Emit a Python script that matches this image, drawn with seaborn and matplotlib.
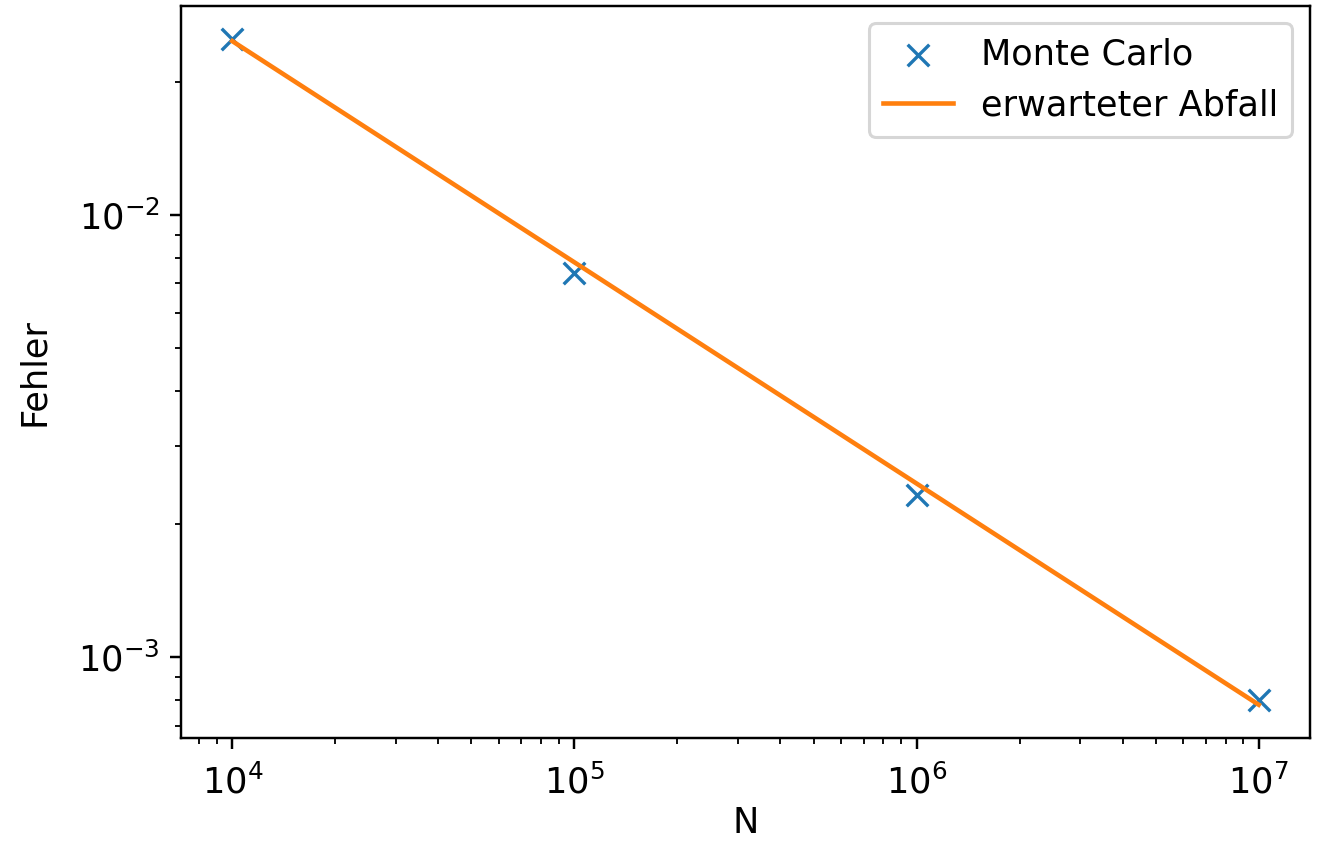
import matplotlib
matplotlib.use("Agg")
import matplotlib.pyplot as plt
import seaborn as sns
import pandas as pd

# Data
N_values = [1e4, 1e5, 1e6, 1e7]
mc_error = [0.0250, 0.00740, 0.00233, 0.000800]
expected_error = [0.0247, 0.00781, 0.00247, 0.000781]

plt.rcParams["font.size"] = 11.5

dpi = 220
fig = plt.figure(figsize=(1321 / dpi, 849 / dpi), dpi=dpi)
ax = fig.add_axes([181 / 1321, 1 - 738 / 849, (1310 - 181) / 1321, (738 - 5.5) / 849])

df_mc = pd.DataFrame({"N": N_values, "Fehler": mc_error})
df_ex = pd.DataFrame({"N": N_values, "Fehler": expected_error})

sns.scatterplot(data=df_mc, x="N", y="Fehler", marker="x", color="C0", s=50,
                linewidth=1.1, label="Monte Carlo", ax=ax, zorder=2)
sns.lineplot(data=df_ex, x="N", y="Fehler", color="C1", linewidth=1.5,
             label="erwarteter Abfall", ax=ax, zorder=3)

ax.set_xscale("log")
ax.set_yscale("log")
ax.tick_params(axis="x", which="major", pad=5.0)
ax.set_xlabel("N", labelpad=2)
ax.set_ylabel("Fehler", labelpad=9)
ax.legend(loc="upper right")

fig.savefig("out.png", dpi=dpi)
